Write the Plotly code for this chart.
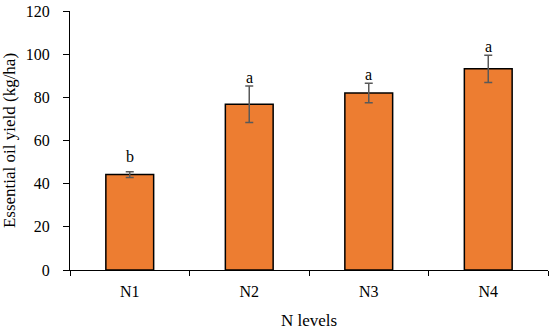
import plotly.graph_objects as go

categories = ["N1", "N2", "N3", "N4"]
values = [44.2, 76.8, 82.0, 93.2]
errors = [1.3, 8.5, 4.5, 6.3]
letters = ["b", "a", "a", "a"]
y_ticks = [0, 20, 40, 60, 80, 100, 120]

FONT = "Liberation Serif"
letter_shift = {"N1": 7}

fig = go.Figure()
fig.add_trace(go.Bar(
    x=categories, y=values,
    width=0.4,
    marker=dict(color="#ED7D31", line=dict(color="black", width=1.5)),
    error_y=dict(type="data", array=errors, visible=True,
                 color="#595959", thickness=1.5, width=4),
))

for c, v, e, l in zip(categories, values, errors, letters):
    fig.add_annotation(x=c, y=v + e, text=l, showarrow=False,
                       yanchor="bottom", yshift=letter_shift.get(c, 0) - 2,
                       font=dict(family=FONT, size=16, color="black"))

fig.update_layout(
    width=550, height=333,
    margin=dict(l=70, r=2, t=11, b=63),
    plot_bgcolor="white", paper_bgcolor="white",
    showlegend=False,
    font=dict(family=FONT, size=16, color="black"),
)
fig.update_xaxes(
    range=[-0.5, 3.5], tickson="boundaries", ticks="outside", ticklen=5,
    tickwidth=1.2, tickcolor="black",
    showline=True, linecolor="black", linewidth=1.3,
    showgrid=False, automargin=False,
    ticklabelstandoff=7,
    title=dict(text="N levels", standoff=14, font=dict(family=FONT, size=17)),
    tickfont=dict(family=FONT, size=16),
)
fig.update_yaxes(
    range=[0, 120], tickvals=y_ticks, ticks="outside", ticklen=6,
    tickwidth=1.2, tickcolor="black",
    showline=True, linecolor="black", linewidth=1.3,
    showgrid=False, zeroline=False, automargin=False,
    ticklabelstandoff=10,
    title=dict(text="Essential oil yield (kg/ha)", standoff=12, font=dict(family=FONT, size=17)),
    tickfont=dict(family=FONT, size=16),
)

fig.write_html("out.html", config={"displayModeBar": False},
               post_script="document.body.style.margin='0';")
